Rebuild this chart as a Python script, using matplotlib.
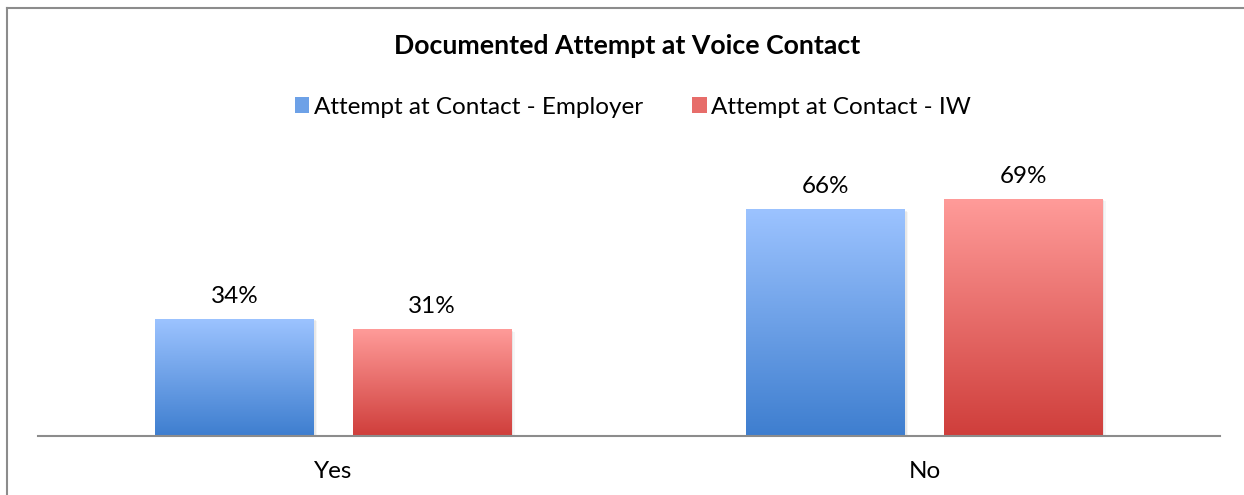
import matplotlib
matplotlib.use("Agg")
import matplotlib.pyplot as plt
import numpy as np
from matplotlib.colors import LinearSegmentedColormap
from matplotlib.patches import Rectangle
from matplotlib.lines import Line2D

categories = ["Yes", "No"]
series_names = ["Attempt at Contact - Employer", "Attempt at Contact - IW"]
employer = [0.34, 0.66]
iw = [0.31, 0.69]
labels_emp = ["34%", "66%"]
labels_iw = ["31%", "69%"]

top_colors = ["#9CC3FF", "#FF9B99"]
bot_colors = ["#3E7ECF", "#CF3E3B"]

plt.rcParams['font.family'] = ['Lato', 'DejaVu Sans']

W, H = 1244, 495
fig = plt.figure(figsize=(W / 100, H / 100), dpi=100)

ax_left, ax_right = 38, 1220
ax_bottom = 436
ymax = 0.80
px_per = 343
ax_top = ax_bottom - ymax * px_per
ax = fig.add_axes([ax_left / W, 1 - ax_bottom / H, (ax_right - ax_left) / W, (ax_bottom - ax_top) / H])
ax.set_xlim(-0.5, 1.5)
ax.set_ylim(0, ymax)

x = np.arange(len(categories))
width = 0.269
offset = 0.167

def grad_bars(xs, vals, top, bot, labels):
    cmap = LinearSegmentedColormap.from_list("g", [bot, top])
    bars = ax.bar(xs, vals, width=width, color="none", edgecolor="none", zorder=2)
    for b, lab in zip(bars, labels):
        x0, y0 = b.get_x(), b.get_y()
        w, h = b.get_width(), b.get_height()
        for k, a in enumerate([0.06, 0.035]):
            sh = Rectangle((x0 + 0.0025 * (k + 1), y0), w, h - 0.003 * (k + 1), facecolor="#000000",
                           alpha=a, edgecolor="none", zorder=1)
            ax.add_patch(sh)
        grad = np.linspace(0, 1, 256).reshape(-1, 1)
        ax.imshow(grad, extent=[x0, x0 + w, y0, y0 + h], origin="lower",
                  cmap=cmap, aspect="auto", zorder=2)
        ax.annotate(lab, (x0 + w / 2, y0 + h), xytext=(0, 9), textcoords="offset points",
                    ha="center", va="bottom", fontsize=17.5, color="#000000")
    return bars

grad_bars(x - offset, employer, top_colors[0], bot_colors[0], labels_emp)
grad_bars(x + offset, iw, top_colors[1], bot_colors[1], labels_iw)
ax.set_xlim(-0.5, 1.5)
ax.set_ylim(0, ymax)

for s in ["top", "right", "left"]:
    ax.spines[s].set_visible(False)
ax.spines["bottom"].set_color("#8C8C8C")
ax.spines["bottom"].set_linewidth(1.5)
ax.set_yticks([])
ax.set_xticks(x)
ax.set_xticklabels(categories, fontsize=17.5)
ax.tick_params(axis="x", length=0, pad=18)

fig.text(627 / W, 1 - 46 / H, "Documented Attempt at Voice Contact", ha="center", va="center",
         fontsize=19.2, fontweight="bold")

handles = [Rectangle((0, 0), 1, 1, facecolor=(np.array(matplotlib.colors.to_rgb(t)) + np.array(matplotlib.colors.to_rgb(b))) / 2)
           for t, b in zip(top_colors, bot_colors)]
fig.legend(handles, series_names, loc="center", bbox_to_anchor=(633 / W, 1 - 107 / H), ncol=2,
           frameon=False, fontsize=17.5, handlelength=0.6, handleheight=0.6, handletextpad=0.2,
           columnspacing=2.0)

fig.add_artist(Line2D([7 / W, 1], [1 - 7.5 / H, 1 - 7.5 / H], color="#8C8C8C", lw=1.5))
fig.add_artist(Line2D([7 / W, 7 / W], [0, 1 - 7.5 / H], color="#8C8C8C", lw=1.5))

fig.savefig("out.png", dpi=100)
